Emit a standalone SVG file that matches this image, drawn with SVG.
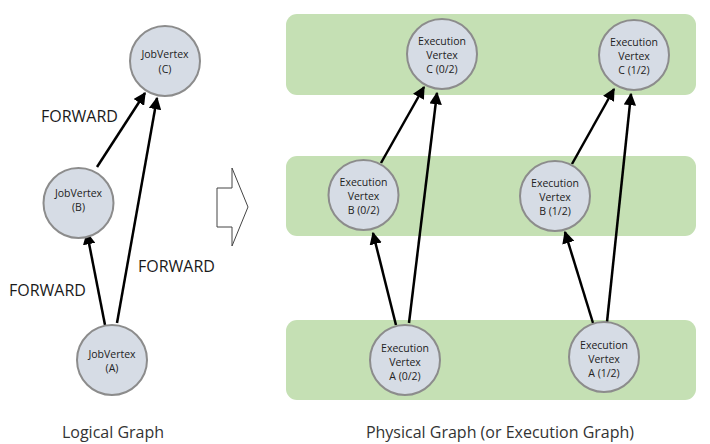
<svg xmlns="http://www.w3.org/2000/svg" width="710" height="444" viewBox="0 0 710 444">
<defs>
<marker id="ah" viewBox="0 0 10 10" refX="9" refY="5" markerWidth="5" markerHeight="5" markerUnits="strokeWidth" orient="auto">
<path d="M0,0 L10,5 L0,10 z" fill="#000"/>
</marker>
<style>
.band{fill:#c5e0b4}
.v{fill:#d6dce5;stroke:#8c8c8c;stroke-width:2}
.t{font-family:"Open Sans","DejaVu Sans",sans-serif;font-size:10.5px;fill:#222;text-anchor:middle}
.lbl{font-family:"Open Sans","DejaVu Sans",sans-serif;font-size:16px;fill:#1a1a1a}
.cap{font-family:"Open Sans","DejaVu Sans",sans-serif;font-size:16px;fill:#333;text-anchor:middle}
.e{stroke:#000;stroke-width:2.5;fill:none;marker-end:url(#ah)}
</style>
</defs>
<rect width="710" height="444" fill="#fff"/>
<g id="bands">
<rect class="band" x="286" y="14" width="410" height="81" rx="11"/>
<rect class="band" x="286" y="156" width="410" height="80" rx="11"/>
<rect class="band" x="286" y="320" width="410" height="80" rx="11"/>
</g>
<g id="connectors">
<line class="e" x1="97" y1="167" x2="145" y2="93"/>
<line class="e" x1="117" y1="323" x2="157" y2="98"/>
<line class="e" x1="105" y1="325" x2="87" y2="233"/>
<line class="e" x1="381" y1="163" x2="424" y2="87"/>
<line class="e" x1="409" y1="323" x2="437" y2="93"/>
<line class="e" x1="396" y1="325" x2="373" y2="233"/>
<line class="e" x1="572" y1="164" x2="614" y2="89"/>
<line class="e" x1="607" y1="322" x2="631" y2="94"/>
<line class="e" x1="593" y1="323" x2="565" y2="232"/>
</g>
<g id="jobC"><circle class="v" cx="165" cy="61" r="35"/><text class="t" x="165" y="58">JobVertex</text><text class="t" x="165" y="73">(C)</text></g>
<g id="jobB"><circle class="v" cx="78.5" cy="203" r="35"/><text class="t" x="78.5" y="197">JobVertex</text><text class="t" x="78.5" y="211">(B)</text></g>
<g id="jobA"><circle class="v" cx="112" cy="360" r="35"/><text class="t" x="112" y="358">JobVertex</text><text class="t" x="112" y="372">(A)</text></g>
<g id="labels">
<text class="lbl" x="41" y="122">FORWARD</text>
<text class="lbl" x="138" y="272">FORWARD</text>
<text class="lbl" x="9" y="296">FORWARD</text>
</g>
<g id="bigarrow"><path d="M217,188 L232,188 L232,168 L248,207 L232,246 L232,227 L217,227 Z" fill="#fff" stroke="#444" stroke-width="1"/></g>
<g id="exC0"><circle class="v" cx="442" cy="54" r="35"/><text class="t" x="442" y="45">Execution</text><text class="t" x="442" y="59">Vertex</text><text class="t" x="442" y="73">C (0/2)</text></g>
<g id="exC1"><circle class="v" cx="634" cy="55" r="35"/><text class="t" x="634" y="46">Execution</text><text class="t" x="634" y="60">Vertex</text><text class="t" x="634" y="74">C (1/2)</text></g>
<g id="exB0"><circle class="v" cx="363.5" cy="195" r="35"/><text class="t" x="363.5" y="186">Execution</text><text class="t" x="363.5" y="200">Vertex</text><text class="t" x="363.5" y="214">B (0/2)</text></g>
<g id="exB1"><circle class="v" cx="555" cy="196" r="35"/><text class="t" x="555" y="187">Execution</text><text class="t" x="555" y="201">Vertex</text><text class="t" x="555" y="215">B (1/2)</text></g>
<g id="exA0"><circle class="v" cx="405" cy="360" r="35"/><text class="t" x="405" y="352">Execution</text><text class="t" x="405" y="366">Vertex</text><text class="t" x="405" y="380">A (0/2)</text></g>
<g id="exA1"><circle class="v" cx="604" cy="357" r="35"/><text class="t" x="604" y="349">Execution</text><text class="t" x="604" y="363">Vertex</text><text class="t" x="604" y="377">A (1/2)</text></g>
<g id="captions">
<text class="cap" x="113" y="438">Logical Graph</text>
<text class="cap" x="500" y="438">Physical Graph (or Execution Graph)</text>
</g>
</svg>
